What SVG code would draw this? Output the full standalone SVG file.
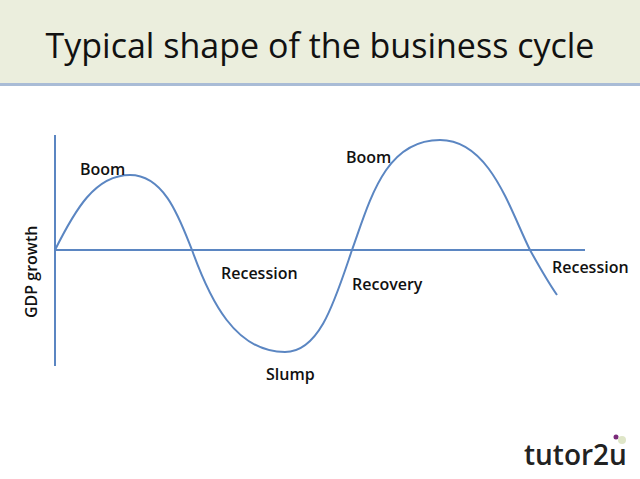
<svg xmlns="http://www.w3.org/2000/svg" width="640" height="479" viewBox="0 0 640 479">
<style>
.l{font-family:"Open Sans","Liberation Sans",sans-serif;font-size:16px;font-weight:600;fill:#111}
.ax{stroke:#5b86c2;stroke-width:2;fill:none}
</style>
<rect width="640" height="479" fill="#fff"/>
<rect width="640" height="84" fill="#ebeedd"/>
<rect y="83" width="640" height="3" fill="#a9bcd6"/>
<text x="320" y="58" text-anchor="middle" font-family="Open Sans, Liberation Sans, sans-serif" font-size="34" fill="#111">Typical shape of the business cycle</text>
<g id="connectors">
<line class="ax" x1="55" y1="135" x2="55" y2="366"/>
<line class="ax" x1="55" y1="250" x2="585" y2="250"/>
<path class="ax" d="M55,250 C75,210 95,175 130,175 C165,175 180,220 192,250 C210,300 235,352 285,352 C320,352 335,300 352,250 C370,200 385,140 440,140 C490,140 510,210 530,250 C540,268 548,282 557,295"/>
</g>
<g id="labels">
<text class="l" x="80" y="175">Boom</text>
<text class="l" x="346" y="163">Boom</text>
<text class="l" x="221" y="279">Recession</text>
<text class="l" x="552" y="273">Recession</text>
<text class="l" x="352" y="290">Recovery</text>
<text class="l" x="266" y="380">Slump</text>
<text class="l" transform="translate(37,318) rotate(-90)">GDP growth</text>
</g>
<g id="logo">
<text x="524" y="465" font-family="Open Sans, Liberation Sans, sans-serif" font-size="28" font-weight="600" fill="#222">tutor2u</text>
<circle cx="616" cy="437" r="2.5" fill="#7a2a7a"/>
<circle cx="622" cy="440" r="4" fill="#dfe6c8"/>
</g>
</svg>
